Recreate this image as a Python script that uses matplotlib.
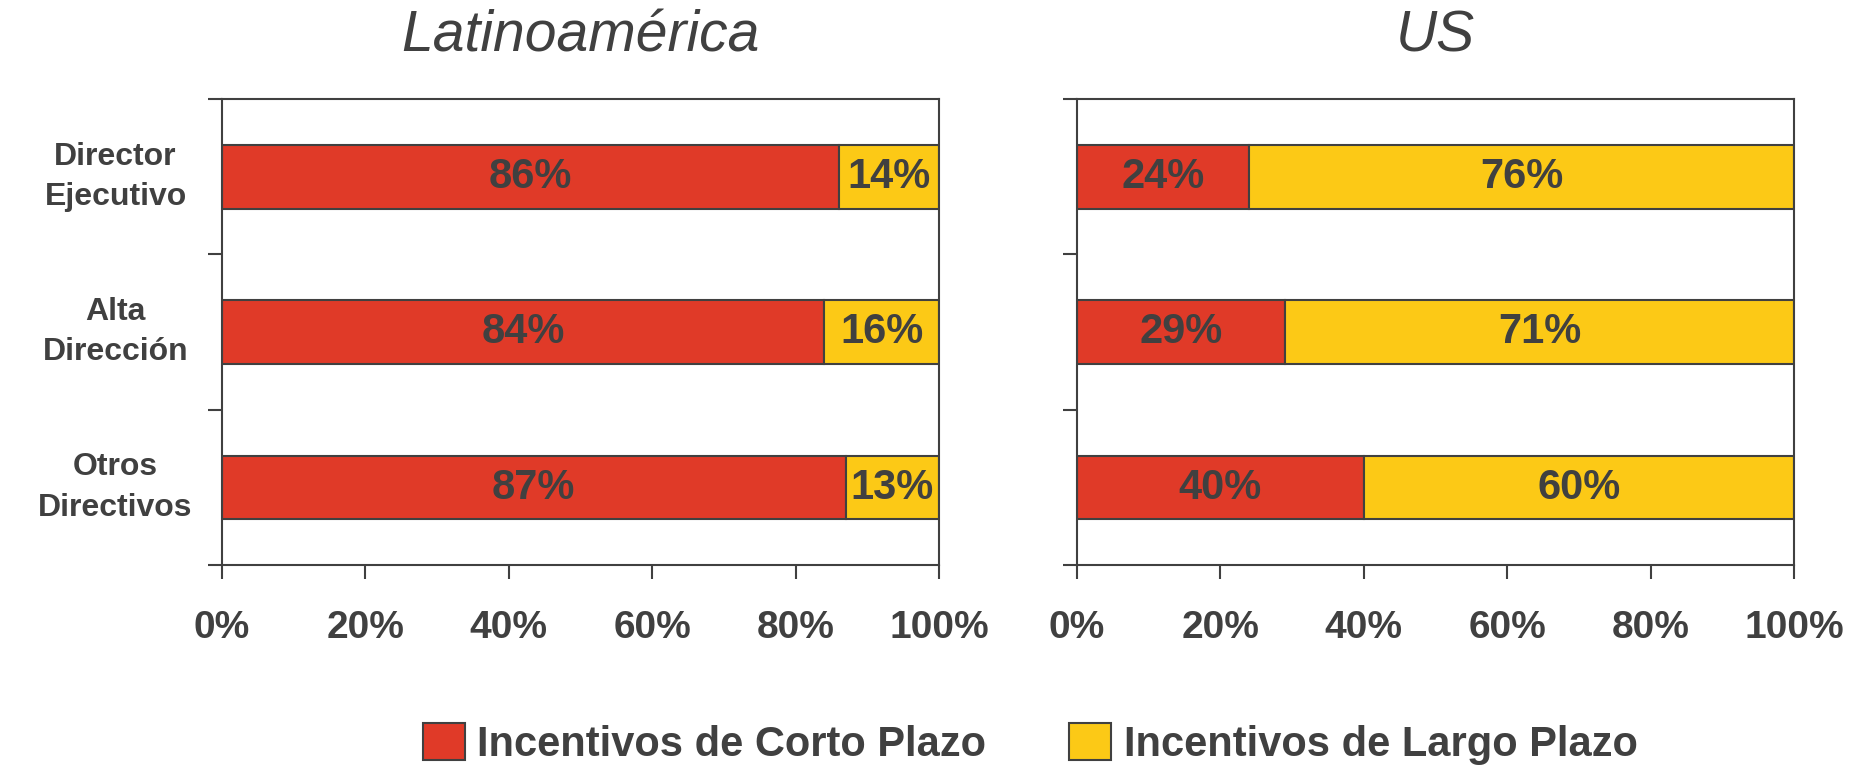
import matplotlib.pyplot as plt
from matplotlib.patches import Patch

categorias = ['Director\nEjecutivo', 'Alta\nDirección', 'Otros\nDirectivos']
paneles = ['Latinoamérica', 'US']
corto_latam = [86, 84, 87]
largo_latam = [14, 16, 13]
corto_us = [24, 29, 40]
largo_us = [76, 71, 60]
x_ticks = [0, 20, 40, 60, 80, 100]
series = ['Incentivos de Corto Plazo', 'Incentivos de Largo Plazo']

ROJO = '#E03A28'
AMARILLO = '#FCC916'
GRIS = '#404040'
FUENTE = ['Liberation Sans', 'DejaVu Sans']

plt.rcParams['font.family'] = FUENTE
plt.rcParams['text.color'] = GRIS

fig = plt.figure(figsize=(18.63, 7.68), dpi=100)
ax1 = fig.add_axes([0.119, 0.264, 0.385, 0.607])
ax2 = fig.add_axes([0.578, 0.264, 0.385, 0.607])

datos = [(ax1, corto_latam, largo_latam), (ax2, corto_us, largo_us)]
for i, (ax, corto, largo) in enumerate(datos):
    y = list(range(len(categorias)))
    ax.barh(y, corto, height=0.41, color=ROJO, edgecolor=GRIS, linewidth=1.5)
    ax.barh(y, largo, left=corto, height=0.41, color=AMARILLO, edgecolor=GRIS, linewidth=1.5)
    for yi, c, l in zip(y, corto, largo):
        ax.text(c / 2, yi, f'{c}%', ha='center', va='center', fontsize=30,
                fontweight='bold', color=GRIS)
        ax.text(c + l / 2, yi, f'{l}%', ha='center', va='center', fontsize=30,
                fontweight='bold', color=GRIS)
    ax.set_xlim(0, 100)
    ax.set_ylim(2.5, -0.5)
    ax.set_xticks(x_ticks)
    ax.set_xticklabels([f'{t}%' for t in x_ticks], fontsize=28, fontweight='bold', color=GRIS)
    ax.set_yticks([-0.5, 0.5, 1.5, 2.5])
    ax.set_yticklabels([])
    if i == 0:
        for yi, cat in zip(y, categorias):
            ax.text(-14.8, yi, cat, ha='center', va='center', fontsize=23,
                    fontweight='bold', color=GRIS, multialignment='center',
                    linespacing=1.45)
    ax.tick_params(axis='x', length=10, width=1.5, color=GRIS, pad=22)
    ax.tick_params(axis='y', length=10, width=1.5, color=GRIS)
    for s in ax.spines.values():
        s.set_color(GRIS)
        s.set_linewidth(1.5)
    ax.set_title(paneles[i], fontsize=41, style='italic', color=GRIS, pad=34)

handles = [Patch(facecolor=ROJO, edgecolor=GRIS, linewidth=1.5),
           Patch(facecolor=AMARILLO, edgecolor=GRIS, linewidth=1.5)]
fig.legend(handles, series, loc='lower center', bbox_to_anchor=(0.553, -0.045), ncol=2,
           frameon=False, prop={'size': 30, 'weight': 'bold'},
           handlelength=1.0, handleheight=1.0, columnspacing=2.0, handletextpad=0.3)

fig.savefig('out.png', dpi=100)
